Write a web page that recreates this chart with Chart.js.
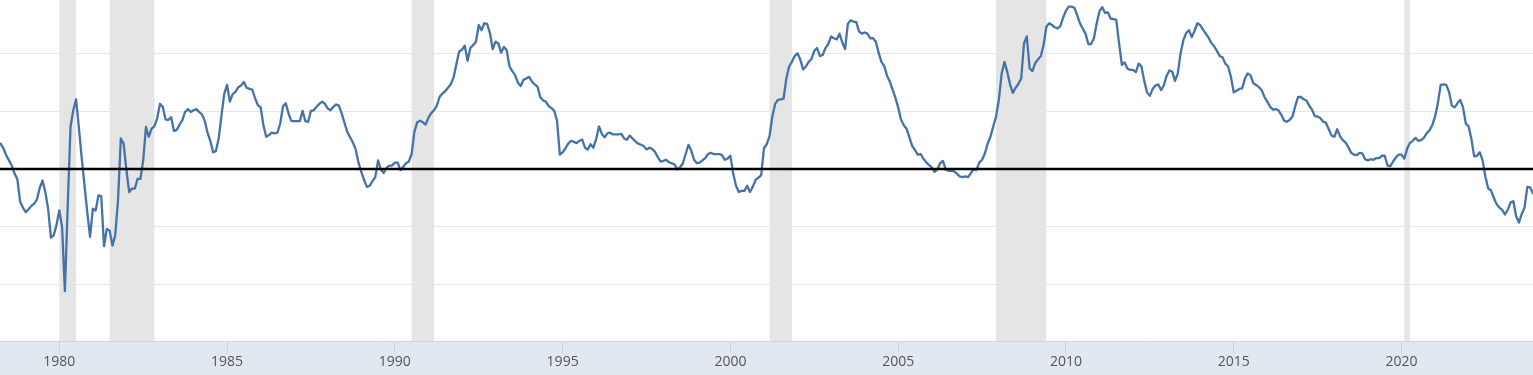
<!DOCTYPE html>
<html>
<head>
<meta charset="utf-8">
<script src="https://cdn.jsdelivr.net/npm/chart.js@4"></script>
<style>
  html, body { margin: 0; padding: 0; background: #ffffff; }
  #wrap { position: relative; width: 1533px; height: 375px; }
</style>
</head>
<body>
<div id="wrap"><canvas id="c"></canvas></div>
<script>
// ---- data (monthly spread, percentage points) ----
const firstYear = 1978;
const firstMonth = 4; // April 1978
const spread = [
  /*1978*/ 0.44, 0.36, 0.24, 0.15, 0.06, -0.08, -0.18, -0.57, -0.67,
  /*1979*/ -0.75, -0.70, -0.64, -0.60, -0.53, -0.33, -0.20, -0.40, -0.69, -1.19, -1.15, -0.97,
  /*1980*/ -0.72, -1.01, -2.12, -0.65, 0.73, 1.02, 1.21, 0.72, 0.20, -0.28, -0.75, -1.18,
  /*1981*/ -0.69, -0.72, -0.46, -0.47, -1.34, -1.04, -1.07, -1.33, -1.15, -0.54, 0.53, 0.44,
  /*1982*/ -0.02, -0.40, -0.34, -0.34, -0.17, -0.17, 0.15, 0.73, 0.56, 0.70, 0.74, 0.88,
  /*1983*/ 1.13, 1.08, 0.86, 0.85, 0.90, 0.66, 0.68, 0.77, 0.85, 0.99, 1.04, 0.99,
  /*1984*/ 1.02, 1.04, 0.99, 0.95, 0.84, 0.63, 0.49, 0.29, 0.31, 0.53, 0.93, 1.31,
  /*1985*/ 1.46, 1.17, 1.30, 1.34, 1.42, 1.45, 1.51, 1.41, 1.39, 1.38, 1.23, 1.11,
  /*1986*/ 1.07, 0.76, 0.56, 0.59, 0.63, 0.62, 0.63, 0.79, 1.09, 1.14, 0.96, 0.83,
  /*1987*/ 0.83, 0.83, 0.83, 1.01, 0.83, 0.82, 1.01, 1.02, 1.08, 1.13, 1.17, 1.13,
  /*1988*/ 1.05, 1.02, 1.08, 1.12, 1.10, 0.96, 0.80, 0.64, 0.55, 0.46, 0.34, 0.11,
  /*1989*/ -0.05, -0.19, -0.31, -0.29, -0.21, -0.14, 0.15, -0.01, -0.07, 0.02, 0.06, 0.06,
  /*1990*/ 0.11, 0.11, -0.02, 0.04, 0.10, 0.13, 0.26, 0.65, 0.81, 0.84, 0.81, 0.77,
  /*1991*/ 0.89, 0.97, 1.02, 1.10, 1.25, 1.31, 1.35, 1.41, 1.47, 1.59, 1.82, 2.04,
  /*1992*/ 2.07, 2.14, 1.88, 2.10, 2.15, 2.21, 2.50, 2.41, 2.53, 2.52, 2.36, 2.08,
  /*1993*/ 2.21, 2.18, 2.02, 2.12, 2.06, 1.78, 1.70, 1.63, 1.50, 1.44, 1.55, 1.57,
  /*1994*/ 1.60, 1.52, 1.47, 1.43, 1.25, 1.19, 1.17, 1.09, 1.06, 1.01, 0.84, 0.25,
  /*1995*/ 0.29, 0.36, 0.44, 0.49, 0.47, 0.45, 0.49, 0.51, 0.37, 0.34, 0.43, 0.37,
  /*1996*/ 0.52, 0.74, 0.61, 0.55, 0.62, 0.63, 0.60, 0.60, 0.60, 0.61, 0.53, 0.51,
  /*1997*/ 0.58, 0.53, 0.48, 0.44, 0.42, 0.40, 0.34, 0.37, 0.35, 0.30, 0.21, 0.13,
  /*1998*/ 0.14, 0.16, 0.12, 0.10, 0.08, -0.01, 0.03, 0.10, 0.26, 0.42, 0.32, 0.16,
  /*1999*/ 0.10, 0.11, 0.15, 0.19, 0.26, 0.28, 0.26, 0.26, 0.26, 0.24, 0.16, 0.18,
  /*2000*/ 0.23, -0.08, -0.29, -0.40, -0.38, -0.38, -0.29, -0.40, -0.31, -0.19, -0.15, -0.11,
  /*2001*/ 0.36, 0.43, 0.57, 0.91, 1.13, 1.20, 1.21, 1.22, 1.57, 1.78, 1.86, 1.96,
  /*2002*/ 2.01, 1.90, 1.73, 1.78, 1.86, 1.91, 2.05, 2.10, 1.96, 1.98, 2.10, 2.17,
  /*2003*/ 2.30, 2.27, 2.25, 2.35, 2.20, 2.08, 2.52, 2.58, 2.56, 2.55, 2.39, 2.35,
  /*2004*/ 2.37, 2.35, 2.27, 2.27, 2.21, 2.02, 1.86, 1.79, 1.62, 1.52, 1.38, 1.24,
  /*2005*/ 1.07, 0.86, 0.76, 0.70, 0.55, 0.40, 0.33, 0.25, 0.26, 0.18, 0.12, 0.07,
  /*2006*/ 0.03, -0.05, -0.01, 0.10, 0.14, -0.01, -0.03, -0.03, -0.04, -0.08, -0.13, -0.14,
  /*2007*/ -0.13, -0.14, -0.07, 0.00, -0.02, 0.11, 0.16, 0.27, 0.44, 0.56, 0.74, 0.91,
  /*2008*/ 1.20, 1.65, 1.86, 1.69, 1.47, 1.32, 1.41, 1.48, 1.57, 2.18, 2.30, 1.75,
  /*2009*/ 1.70, 1.84, 1.90, 1.96, 2.15, 2.47, 2.53, 2.50, 2.46, 2.44, 2.48, 2.63,
  /*2010*/ 2.75, 2.82, 2.82, 2.80, 2.67, 2.53, 2.44, 2.35, 2.17, 2.17, 2.27, 2.53,
  /*2011*/ 2.74, 2.81, 2.71, 2.72, 2.61, 2.60, 2.59, 2.18, 1.81, 1.85, 1.74, 1.72,
  /*2012*/ 1.72, 1.68, 1.83, 1.78, 1.53, 1.33, 1.27, 1.39, 1.45, 1.47, 1.37, 1.45,
  /*2013*/ 1.62, 1.71, 1.69, 1.53, 1.66, 2.01, 2.24, 2.36, 2.41, 2.29, 2.40, 2.53,
  /*2014*/ 2.50, 2.42, 2.35, 2.28, 2.19, 2.13, 2.05, 1.96, 1.94, 1.83, 1.78, 1.60,
  /*2015*/ 1.33, 1.36, 1.39, 1.40, 1.57, 1.66, 1.63, 1.49, 1.46, 1.42, 1.37, 1.25,
  /*2016*/ 1.17, 1.08, 1.03, 1.04, 1.02, 0.94, 0.84, 0.82, 0.85, 0.91, 1.09, 1.25,
  /*2017*/ 1.25, 1.21, 1.19, 1.10, 1.03, 0.92, 0.91, 0.88, 0.82, 0.80, 0.69, 0.58,
  /*2018*/ 0.56, 0.69, 0.57, 0.50, 0.46, 0.38, 0.28, 0.25, 0.24, 0.28, 0.27, 0.17,
  /*2019*/ 0.15, 0.17, 0.16, 0.19, 0.19, 0.23, 0.23, 0.06, 0.05, 0.13, 0.20, 0.25,
  /*2020*/ 0.25, 0.18, 0.35, 0.45, 0.49, 0.54, 0.49, 0.50, 0.54, 0.62, 0.67, 0.76,
  /*2021*/ 0.91, 1.14, 1.46, 1.47, 1.46, 1.34, 1.10, 1.07, 1.14, 1.20, 1.07, 0.79,
  /*2022*/ 0.74, 0.52, 0.22, 0.23, 0.29, 0.15, -0.13, -0.34, -0.37, -0.50, -0.61, -0.67,
  /*2023*/ -0.71, -0.79, -0.71, -0.58, -0.56, -0.82, -0.93, -0.78, -0.67, -0.31, -0.32, -0.42
];
const recessions = [
  ['1980-01', '1980-07'],
  ['1981-07', '1982-11'],
  ['1990-07', '1991-03'],
  ['2001-03', '2001-11'],
  ['2007-12', '2009-06'],
  ['2020-02', '2020-04']
];
const yearTicks = [1980, 1985, 1990, 1995, 2000, 2005, 2010, 2015, 2020];
const valueTicks = [-2, -1, 0, 1, 2];

// ---- helpers ----
function ym(s) { const p = s.split('-').map(Number); return p[0] + (p[1] - 1) / 12; }
const months = spread.map((_, i) => {
  const t = (firstMonth - 1) + i;
  return (firstYear + Math.floor(t / 12)) + '-' + String(t % 12 + 1).padStart(2, '0');
});
const points = months.map((m, i) => ({ x: ym(m), y: spread[i] }));

const xMin = 1978.2327, xMax = 2023.919;
const yMin = -2.986, yMax = 2.934;

const decor = {
  id: 'decor',
  beforeDraw(chart) {
    const ctx = chart.ctx, a = chart.chartArea;
    ctx.save();
    ctx.fillStyle = '#e1e8f0';
    ctx.fillRect(0, a.bottom, chart.width, chart.height - a.bottom);
    ctx.restore();
  },
  beforeDatasetsDraw(chart) {
    const ctx = chart.ctx, a = chart.chartArea, xs = chart.scales.x;
    ctx.save();
    ctx.fillStyle = '#e5e5e5';
    recessions.forEach(r => {
      const x1 = xs.getPixelForValue(ym(r[0]));
      const x2 = xs.getPixelForValue(ym(r[1]));
      ctx.fillRect(x1, a.top, x2 - x1, a.bottom - a.top);
    });
    ctx.restore();
  },
  afterDatasetsDraw(chart) {
    const ctx = chart.ctx, a = chart.chartArea, ys = chart.scales.y;
    const y0 = ys.getPixelForValue(0);
    ctx.save();
    ctx.strokeStyle = '#000000';
    ctx.lineWidth = 2.5;
    ctx.beginPath();
    ctx.moveTo(a.left, y0);
    ctx.lineTo(a.right, y0);
    ctx.stroke();
    ctx.restore();
  }
};

new Chart(document.getElementById('c'), {
  type: 'line',
  data: {
    datasets: [{
      data: points,
      borderColor: '#4572a7',
      borderWidth: 2.3,
      pointRadius: 0,
      tension: 0,
      fill: false,
      borderJoinStyle: 'round',
      borderCapStyle: 'round'
    }]
  },
  options: {
    animation: false,
    responsive: true,
    maintainAspectRatio: false,
    layout: { padding: 0 },
    plugins: { legend: { display: false }, tooltip: { enabled: false } },
    scales: {
      x: {
        type: 'linear',
        min: xMin,
        max: xMax,
        afterBuildTicks: s => { s.ticks = yearTicks.map(v => ({ value: v })); },
        afterFit: s => { s.height = 34; s.paddingLeft = 0; s.paddingRight = 0; },
        ticks: {
          autoSkip: false, maxRotation: 0, minRotation: 0, padding: 1,
          color: '#555555',
          font: { family: "'Open Sans', 'Liberation Sans', sans-serif", size: 14 },
          callback: v => String(v)
        },
        grid: { drawOnChartArea: false, drawTicks: true, tickLength: 12, color: '#c6d3e1', lineWidth: 1 },
        border: { display: true, color: '#ccd6e2', width: 1 }
      },
      y: {
        min: yMin,
        max: yMax,
        afterBuildTicks: s => { s.ticks = valueTicks.map(v => ({ value: v })); },
        afterFit: s => { s.width = 0; },
        ticks: { display: false },
        grid: {
          drawTicks: false,
          lineWidth: 1,
          color: c => (c.tick && c.tick.value === 0) ? 'rgba(0,0,0,0)' : '#e6e6e6'
        },
        border: { display: false }
      }
    }
  },
  plugins: [decor]
});
</script>
</body>
</html>
